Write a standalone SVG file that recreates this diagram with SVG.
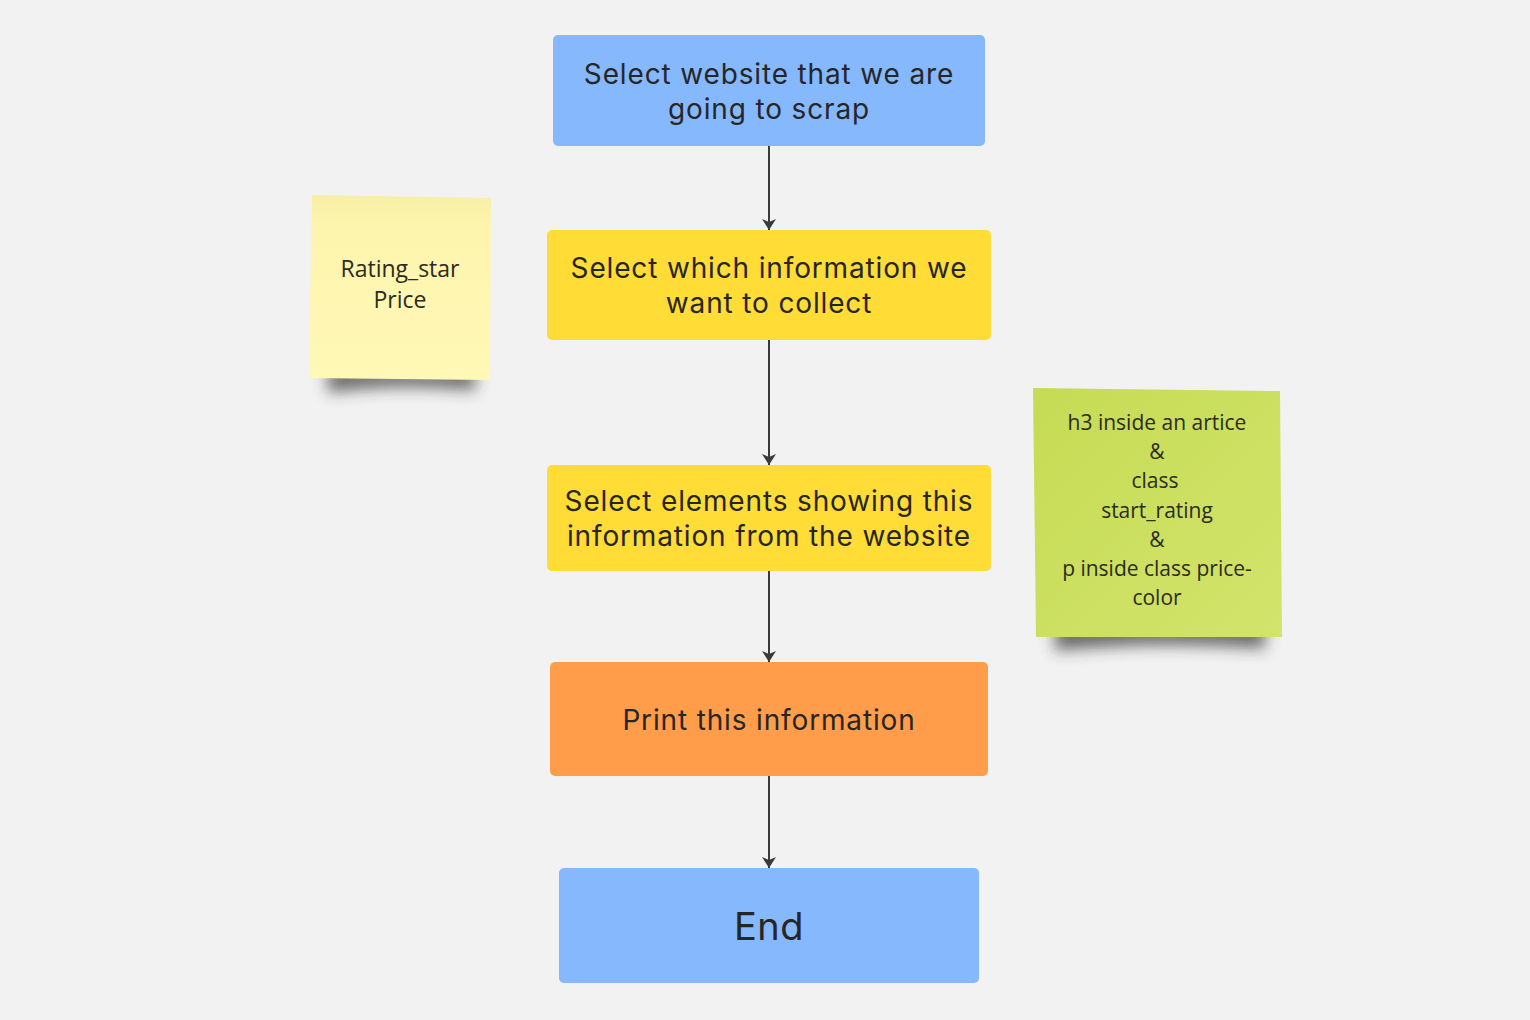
<svg xmlns="http://www.w3.org/2000/svg" width="1530" height="1020" viewBox="0 0 1530 1020">
<defs>
<style>
.box{stroke:none}
.bt{font-family:Inter,"Noto Sans",sans-serif;font-size:28px;letter-spacing:0.85px;fill:#262626;text-anchor:middle}
.st{font-family:"Open Sans","Noto Sans",sans-serif;font-size:22px;fill:#2b2b20;text-anchor:middle}
.edge{stroke:#3a3a3a;stroke-width:2;fill:none;marker-end:url(#ah)}
</style>
<marker id="ah" viewBox="0 0 11 14" refX="11" refY="7" markerWidth="11" markerHeight="14" markerUnits="userSpaceOnUse" orient="auto">
<path d="M0,0 L11,7 L0,14 L3,7 Z" fill="#3a3a3a"/>
</marker>
<linearGradient id="yg" x1="0" y1="0" x2="0" y2="1">
<stop offset="0" stop-color="#f7efa6"/><stop offset="0.15" stop-color="#fdf4ad"/><stop offset="1" stop-color="#fff8b6"/>
</linearGradient>
<linearGradient id="gg" x1="0" y1="0" x2="1" y2="1">
<stop offset="0" stop-color="#c6db54"/><stop offset="1" stop-color="#d2e46c"/>
</linearGradient>
<filter id="sh" x="-20%" y="-80%" width="140%" height="260%"><feGaussianBlur stdDeviation="8"/></filter>
</defs>
<rect width="1530" height="1020" fill="#f2f2f2"/>
<g id="connectors">
<line class="edge" x1="769" y1="146" x2="769" y2="230"/>
<line class="edge" x1="769" y1="340" x2="769" y2="465"/>
<line class="edge" x1="769" y1="571" x2="769" y2="662"/>
<line class="edge" x1="769" y1="776" x2="769" y2="868"/>
</g>
<g id="n1"><rect class="box" x="553" y="35" width="432" height="111" rx="5" fill="#86b8fe"/>
<text class="bt" x="769" y="84">Select website that we are</text><text class="bt" x="769" y="119">going to scrap</text></g>
<g id="n2"><rect class="box" x="547" y="230" width="444" height="110" rx="5" fill="#ffdc36"/>
<text class="bt" x="769" y="278">Select which information we</text><text class="bt" x="769" y="313">want to collect</text></g>
<g id="n3"><rect class="box" x="547" y="465" width="444" height="106" rx="5" fill="#ffdc36"/>
<text class="bt" x="769" y="511">Select elements showing this</text><text class="bt" x="769" y="546">information from the website</text></g>
<g id="n4"><rect class="box" x="550" y="662" width="438" height="114" rx="5" fill="#ff9d4a"/>
<text class="bt" x="769" y="730">Print this information</text></g>
<g id="n5"><rect class="box" x="559" y="868" width="420" height="115" rx="5" fill="#86b8fe"/>
<text class="bt" x="769" y="940" style="font-size:38px;letter-spacing:0.5px">End</text></g>
<g id="s1">
<path d="M328,370 L475,370 L475,390 Q400,382 328,392 Z" fill="#333" opacity="0.75" filter="url(#sh)"/>
<polygon points="312,195 491,198 490,380 309,378" fill="url(#yg)"/>
<text class="st" x="400" y="277" style="font-size:23px">Rating_star</text><text class="st" x="400" y="308" style="font-size:23px">Price</text>
</g>
<g id="s2">
<path d="M1055,626 L1265,626 L1265,648 Q1160,640 1055,650 Z" fill="#333" opacity="0.75" filter="url(#sh)"/>
<polygon points="1033,388 1280,391 1282,637 1036,637" fill="url(#gg)"/>
<text class="st" x="1157" y="430" style="font-size:21px">h3 inside an artice</text>
<text class="st" x="1157" y="459" style="font-size:21px">&amp;</text>
<text class="st" x="1155" y="488" style="font-size:21px">class</text>
<text class="st" x="1157" y="518" style="font-size:21px">start_rating</text>
<text class="st" x="1157" y="547" style="font-size:21px">&amp;</text>
<text class="st" x="1157" y="576" style="font-size:21px">p inside class price-</text>
<text class="st" x="1157" y="605" style="font-size:21px">color</text>
</g>
</svg>
